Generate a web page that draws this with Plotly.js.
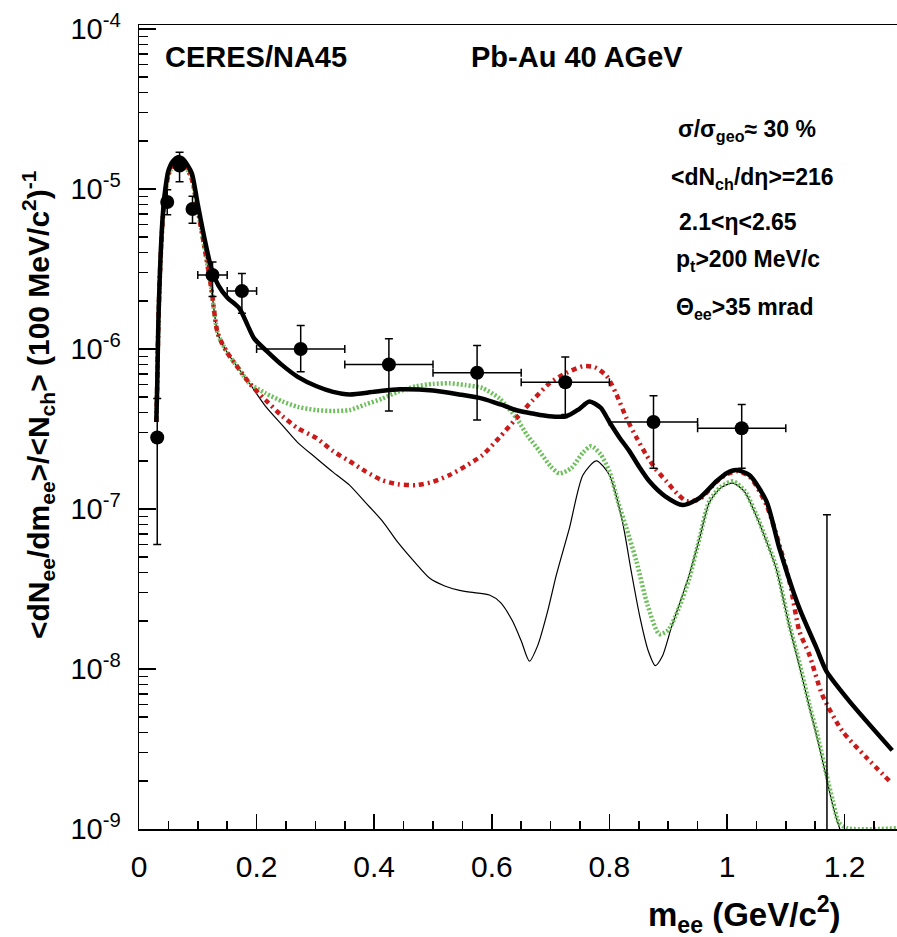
<!DOCTYPE html>
<html><head><meta charset="utf-8">
<script src="https://cdn.plot.ly/plotly-3.0.1.min.js"></script>
<style>html,body{margin:0;padding:0;background:#fff}</style>
</head><body><div id="chart" style="width:897px;height:937px"></div>
<script>
// ---- measured data points (CERES/NA45 Pb-Au 40 AGeV) ----
const massData   = [0.031, 0.048, 0.069, 0.091, 0.125, 0.175, 0.275, 0.425, 0.575, 0.725, 0.875, 1.025, 1.17];
const yieldData  = [2.8e-7, 8.3e-6, 1.4e-5, 7.5e-6, 2.9e-6, 2.3e-6, 1.0e-6, 8.0e-7, 7.1e-7, 6.2e-7, 3.5e-7, 3.2e-7, 5e-10];
const errYUp     = [2.1e-7, 1.6e-6, 3.0e-6, 1.5e-6, 6.0e-7, 6.6e-7, 4.0e-7, 3.6e-7, 3.4e-7, 2.7e-7, 1.6e-7, 1.3e-7, 9.15e-8];
const errYDown   = [2.2e-7, 1.4e-6, 2.9e-6, 1.4e-6, 7.7e-7, 6.3e-7, 2.8e-7, 3.9e-7, 3.5e-7, 2.3e-7, 1.7e-7, 1.4e-7, 0];
const errX       = [0, 0, 0, 0, 0.025, 0.025, 0.075, 0.075, 0.075, 0.075, 0.075, 0.075, 0];

// ---- thick black solid curve ----
const totalMass  = [0.0295,0.031,0.033,0.036,0.040,0.044,0.050,0.058,0.066,0.074,0.082,0.090,0.100,0.110,0.123,0.135,0.150,0.171,0.185,0.196,0.22,0.244,0.27,0.302,0.33,0.358,0.40,0.443,0.50,0.545,0.584,0.615,0.642,0.67,0.698,0.727,0.748,0.766,0.785,0.80,0.817,0.834,0.85,0.868,0.895,0.925,0.953,0.982,1.0,1.016,1.038,1.067,1.089,1.123,1.152,1.169,1.208,1.281];
const totalYield = [3.5e-7,6e-7,1.5e-6,3.3e-6,6.5e-6,9.5e-6,1.3e-5,1.5e-5,1.58e-5,1.55e-5,1.42e-5,1.25e-5,8.0e-6,5.2e-6,3.2e-6,2.5e-6,2.1e-6,1.79e-6,1.4e-6,1.16e-6,9.5e-7,7.9e-7,6.7e-7,5.85e-7,5.4e-7,5.2e-7,5.4e-7,5.6e-7,5.5e-7,5.2e-7,4.9e-7,4.5e-7,4.14e-7,3.95e-7,3.8e-7,3.8e-7,4.2e-7,4.7e-7,4.3e-7,3.5e-7,2.8e-7,2.3e-7,1.85e-7,1.49e-7,1.2e-7,1.06e-7,1.17e-7,1.49e-7,1.68e-7,1.75e-7,1.63e-7,1.12e-7,5.7e-8,2.4e-8,1.36e-8,9.7e-9,6.3e-9,3.1e-9];

// ---- red dash-dotted curve ----
const redMass  = [0.0295,0.031,0.033,0.036,0.040,0.044,0.050,0.058,0.066,0.074,0.082,0.090,0.100,0.110,0.123,0.134,0.150,0.170,0.188,0.215,0.244,0.27,0.302,0.33,0.358,0.385,0.414,0.44,0.471,0.50,0.528,0.555,0.584,0.613,0.642,0.67,0.698,0.727,0.755,0.775,0.795,0.812,0.829,0.846,0.863,0.88,0.897,0.915,0.931,0.953,0.982,1.0,1.018,1.038,1.067,1.106,1.123,1.14,1.162,1.196,1.237,1.276];
const redYield = [3.5e-7,6e-7,1.5e-6,3.2e-6,6.2e-6,9e-6,1.22e-5,1.4e-5,1.46e-5,1.43e-5,1.33e-5,1.15e-5,7.4e-6,4.6e-6,2.4e-6,1.25e-6,9.5e-7,7.5e-7,6.1e-7,4.8e-7,3.8e-7,3.2e-7,2.77e-7,2.3e-7,1.99e-7,1.72e-7,1.51e-7,1.43e-7,1.41e-7,1.48e-7,1.63e-7,1.85e-7,2.17e-7,2.8e-7,3.7e-7,4.8e-7,6.1e-7,7.1e-7,7.8e-7,7.7e-7,6.8e-7,5.2e-7,3.7e-7,2.8e-7,2.17e-7,1.75e-7,1.49e-7,1.25e-7,1.12e-7,1.15e-7,1.48e-7,1.65e-7,1.72e-7,1.6e-7,1.06e-7,3.55e-8,1.73e-8,1.23e-8,6.9e-9,4.1e-9,2.8e-9,2.0e-9];

// ---- green dotted curve ----
const greenMass  = [0.0295,0.031,0.033,0.036,0.040,0.044,0.050,0.058,0.066,0.074,0.082,0.090,0.100,0.110,0.123,0.134,0.150,0.170,0.188,0.215,0.244,0.27,0.302,0.33,0.358,0.385,0.414,0.44,0.471,0.50,0.528,0.555,0.584,0.613,0.642,0.66,0.681,0.70,0.715,0.735,0.755,0.769,0.785,0.80,0.815,0.829,0.846,0.865,0.885,0.9,0.918,0.936,0.953,0.97,0.99,1.01,1.03,1.05,1.067,1.084,1.106,1.123,1.14,1.155,1.169,1.18,1.19,1.205,1.289];
const greenYield = [3.5e-7,6e-7,1.5e-6,3.2e-6,6.2e-6,9e-6,1.22e-5,1.4e-5,1.46e-5,1.43e-5,1.33e-5,1.15e-5,7.4e-6,4.6e-6,2.4e-6,1.25e-6,9.5e-7,7.5e-7,6.1e-7,5.3e-7,4.7e-7,4.35e-7,4.15e-7,4.1e-7,4.15e-7,4.5e-7,4.9e-7,5.4e-7,5.85e-7,6.05e-7,6.1e-7,5.95e-7,5.7e-7,4.9e-7,3.7e-7,2.9e-7,2.3e-7,1.85e-7,1.67e-7,1.8e-7,2.25e-7,2.47e-7,2.2e-7,1.72e-7,1.1e-7,7.6e-8,4.7e-8,2.5e-8,1.65e-8,1.75e-8,2.4e-8,3.7e-8,6.5e-8,1.12e-7,1.38e-7,1.49e-7,1.3e-7,9.2e-8,6.4e-8,4.3e-8,1.89e-8,1.1e-8,6.0e-9,3.7e-9,2.2e-9,1.5e-9,1.1e-9,1.01e-9,1.01e-9];

// ---- thin black cocktail curve ----
const cocktailMass  = [0.0295,0.031,0.033,0.036,0.040,0.044,0.050,0.058,0.066,0.074,0.082,0.090,0.100,0.110,0.123,0.134,0.150,0.170,0.188,0.215,0.244,0.27,0.302,0.33,0.358,0.385,0.414,0.44,0.47,0.494,0.52,0.545,0.57,0.596,0.615,0.635,0.65,0.664,0.678,0.695,0.71,0.732,0.755,0.778,0.80,0.822,0.837,0.852,0.866,0.878,0.89,0.905,0.92,0.936,0.953,0.97,0.99,1.01,1.03,1.05,1.067,1.084,1.106,1.123,1.14,1.155,1.169,1.18,1.19,1.2,1.21];
const cocktailYield = [3.5e-7,6e-7,1.5e-6,3.2e-6,6.2e-6,9e-6,1.22e-5,1.4e-5,1.46e-5,1.43e-5,1.33e-5,1.15e-5,7.4e-6,4.6e-6,2.4e-6,1.25e-6,9.5e-7,7.5e-7,6.1e-7,4.4e-7,3.33e-7,2.6e-7,2.07e-7,1.7e-7,1.41e-7,1.1e-7,8.4e-8,6.2e-8,4.6e-8,3.7e-8,3.3e-8,3.1e-8,3.0e-8,2.9e-8,2.6e-8,2.0e-8,1.5e-8,1.12e-8,1.4e-8,2.3e-8,3.9e-8,7.6e-8,1.63e-7,2.0e-7,1.63e-7,8.4e-8,4.1e-8,2.1e-8,1.3e-8,1.05e-8,1.2e-8,1.8e-8,2.6e-8,3.9e-8,6.5e-8,1.1e-7,1.36e-7,1.45e-7,1.28e-7,9.0e-8,6.3e-8,4.2e-8,1.85e-8,1.05e-8,5.8e-9,3.5e-9,2.1e-9,1.4e-9,1.05e-9,8e-10,6e-10];

// ---- axis labels ----
const yTickVals  = [1e-9, 1e-8, 1e-7, 1e-6, 1e-5, 1e-4];
const yTickText  = ['10<sup>-9</sup>','10<sup>-8</sup>','10<sup>-7</sup>','10<sup>-6</sup>','10<sup>-5</sup>','10<sup>-4</sup>'];
const yMinorMult = [2,3,4,5,6,7,8,9];

// ---- geometry ----
const L = 139, T = 25, B = 108, WIDTH = 897, HEIGHT = 937;
const W = WIDTH - L, H = HEIGHT - T - B;
const pxPerUnitX = 588;
const FONT = 'Liberation Sans, Arial, Helvetica, sans-serif';
const px = v => (v - L) / W;
const py = v => (HEIGHT - B - v) / H;

const yMinor = [];
yTickVals.slice(0, -1).forEach(d => yMinorMult.forEach(k => yMinor.push(k * d)));

const traces = [
  {x: cocktailMass, y: cocktailYield, mode: 'lines', line: {color: '#000', width: 1.2, shape: 'spline', smoothing: 0.7}, hoverinfo: 'skip'},
  {x: greenMass, y: greenYield, mode: 'lines', line: {color: '#6cbf5a', width: 4.5, dash: '2px,2px', shape: 'spline', smoothing: 0.7}, hoverinfo: 'skip'},
  {x: redMass, y: redYield, mode: 'lines', line: {color: '#cc1a1a', width: 4.5, dash: '5px,4px,2px,4px', shape: 'spline', smoothing: 0.7}, hoverinfo: 'skip'},
  {x: totalMass, y: totalYield, mode: 'lines', line: {color: '#000', width: 4.5, shape: 'spline', smoothing: 0.7}, hoverinfo: 'skip'},
  {x: massData, y: yieldData, mode: 'markers', marker: {color: '#000', size: 14, symbol: 'circle'},
   error_y: {type: 'data', symmetric: false, array: errYUp, arrayminus: errYDown, color: '#000', thickness: 1.5, width: 4},
   error_x: {type: 'data', array: errX, color: '#000', thickness: 1.5, width: 4}}
];

const ann = (text, xp, yp, size, bold, extra) => Object.assign({
  text: text, xref: 'paper', yref: 'paper', x: px(xp), y: py(yp), xanchor: 'left', yanchor: 'middle',
  showarrow: false, font: {family: FONT, size: size, color: '#000', weight: bold ? 'bold' : 'normal'}
}, extra || {});

const layout = {
  width: WIDTH, height: HEIGHT,
  margin: {l: L, r: 0, t: T, b: B, pad: 0},
  paper_bgcolor: '#fff', plot_bgcolor: '#fff',
  showlegend: false,
  font: {family: FONT, color: '#000'},
  xaxis: {
    range: [0, W / pxPerUnitX], tick0: 0, dtick: 0.2, ticks: 'inside', ticklen: 15, tickwidth: 1.5, tickcolor: '#000',
    showline: true, linewidth: 1.5, linecolor: '#000', mirror: true, showgrid: false, zeroline: false,
    tickfont: {size: 30, family: FONT}, ticklabelstandoff: 10,
    minor: {dtick: 0.05, tick0: 0, ticks: 'inside', ticklen: 8, tickwidth: 1.5, tickcolor: '#000', showgrid: false}
  },
  yaxis: {
    type: 'log', range: [-9, -3.975], tickmode: 'array', tickvals: yTickVals, ticktext: yTickText,
    ticks: 'inside', ticklen: 17, tickwidth: 1.5, tickcolor: '#000',
    showline: true, linewidth: 1.5, linecolor: '#000', mirror: false, showgrid: false, zeroline: false,
    tickfont: {size: 29, family: FONT}, ticklabelstandoff: 11,
    minor: {tickmode: 'array', tickvals: yMinor, ticks: 'inside', ticklen: 9, tickwidth: 1.5, tickcolor: '#000', showgrid: false}
  },
  annotations: [
    ann('CERES/NA45', 163, 57, 29, true),
    ann('Pb-Au 40 AGeV', 469, 57, 29, true),
    ann('σ/σ<sub>geo</sub>≈ 30 %', 676, 130, 23, true),
    ann('&lt;dN<sub>ch</sub>/dη&gt;=216', 669, 178, 23, true),
    ann('2.1&lt;η&lt;2.65', 677, 222, 23, true),
    ann('p<sub>t</sub>&gt;200 MeV/c', 674, 260, 23, true),
    ann('Θ<sub>ee</sub>&gt;35 mrad', 674, 308, 23, true),
    ann('m<sub>ee</sub> (GeV/c<sup>2</sup>)', 646, 915, 33, true),
    ann('&lt;dN<sub>ee</sub>/dm<sub>ee</sub>&gt;/&lt;N<sub>ch</sub>&gt; (100 MeV/c<sup>2</sup>)<sup>-1</sup>', 38, 405, 30, true,
        {xanchor: 'center', yanchor: 'middle', textangle: -90})
  ]
};

Plotly.newPlot('chart', traces, layout, {staticPlot: true, displayModeBar: false});
</script></body></html>
